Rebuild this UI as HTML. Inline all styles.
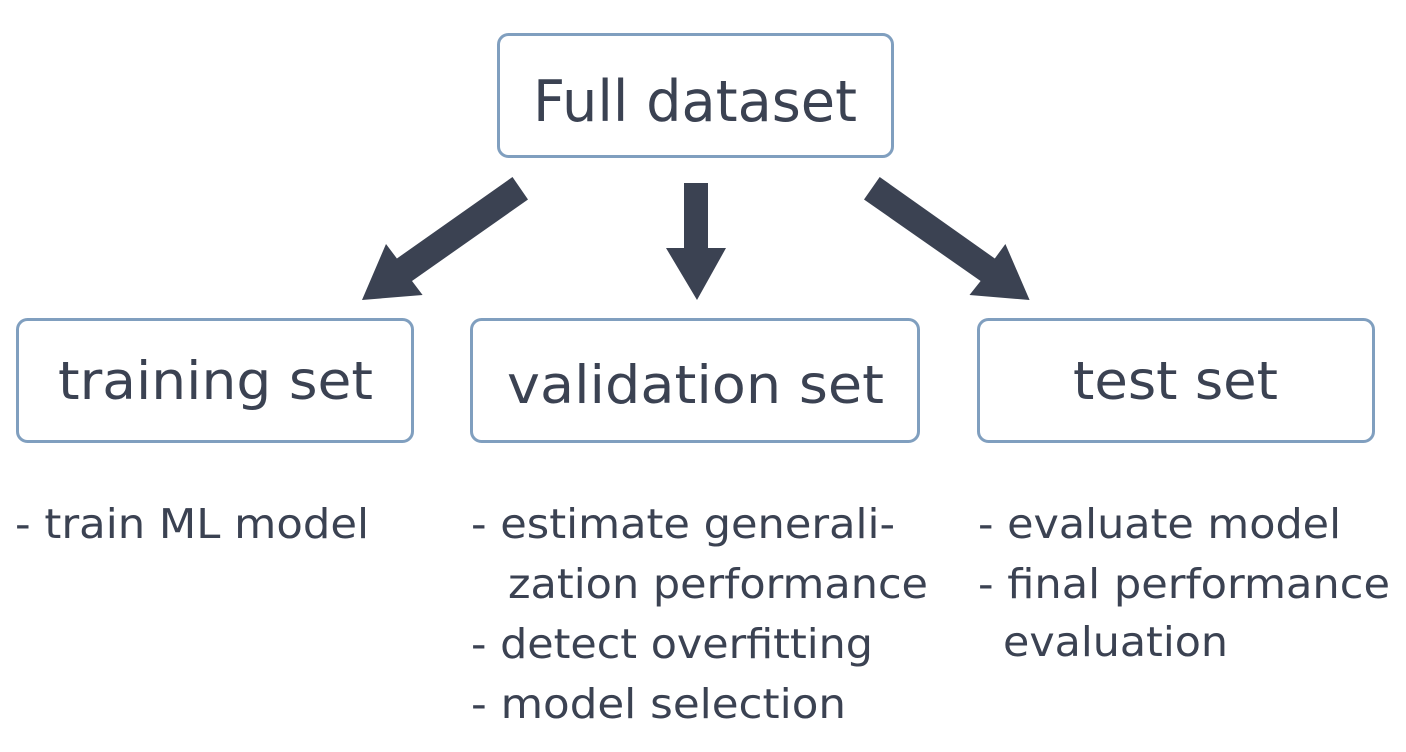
<!DOCTYPE html>
<html><head><meta charset="utf-8"><style>
html,body{margin:0;padding:0;background:#fff;}
svg{display:block;}
text{font-family:"DejaVu Sans","Liberation Sans",sans-serif;fill:#3b4252;}
</style></head><body>
<svg width="1406" height="752" viewBox="0 0 1406 752" xmlns="http://www.w3.org/2000/svg">
<g fill="#fff" stroke="#809fbf" stroke-width="3">
<rect x="498.5" y="34.5" width="394" height="122" rx="10"/>
<rect x="17.5" y="319.5" width="395" height="122" rx="10"/>
<rect x="471.5" y="319.5" width="447" height="122" rx="10"/>
<rect x="978.5" y="319.5" width="395" height="122" rx="10"/>
</g>
<g fill="#3b4252">
<polygon points="512.5,177 528,199.5 412,281 422.6,295 362,300 386,244 396.9,258.5"/>
<polygon points="879.7,177 864,199.5 980.6,281 969.5,295 1029.6,300 1005.4,244 994.8,258.5"/>
<polygon points="684,183 708,183 708,248 726,248 697,300 666,248 684,248"/>
</g>
<text x="533" y="121" font-size="57" textLength="324" lengthAdjust="spacingAndGlyphs">Full dataset</text>
<text x="58" y="399" font-size="53" textLength="315" lengthAdjust="spacingAndGlyphs">training set</text>
<text x="507" y="403" font-size="53" textLength="377" lengthAdjust="spacingAndGlyphs">validation set</text>
<text x="1073" y="399" font-size="53" textLength="205" lengthAdjust="spacingAndGlyphs">test set</text>
<g font-size="41">
<text x="15" y="538" textLength="354" lengthAdjust="spacingAndGlyphs">- train ML model</text>
<text x="471" y="538" textLength="424" lengthAdjust="spacingAndGlyphs">- estimate generali-</text>
<text x="508" y="598" textLength="420" lengthAdjust="spacingAndGlyphs">zation performance</text>
<text x="471" y="658" textLength="402" lengthAdjust="spacingAndGlyphs">- detect overfitting</text>
<text x="471" y="718" textLength="375" lengthAdjust="spacingAndGlyphs">- model selection</text>
<text x="978" y="538" textLength="363" lengthAdjust="spacingAndGlyphs">- evaluate model</text>
<text x="978" y="598" textLength="412" lengthAdjust="spacingAndGlyphs">- final performance</text>
<text x="1003" y="656" textLength="225" lengthAdjust="spacingAndGlyphs">evaluation</text>
</g>
</svg>
</body></html>
